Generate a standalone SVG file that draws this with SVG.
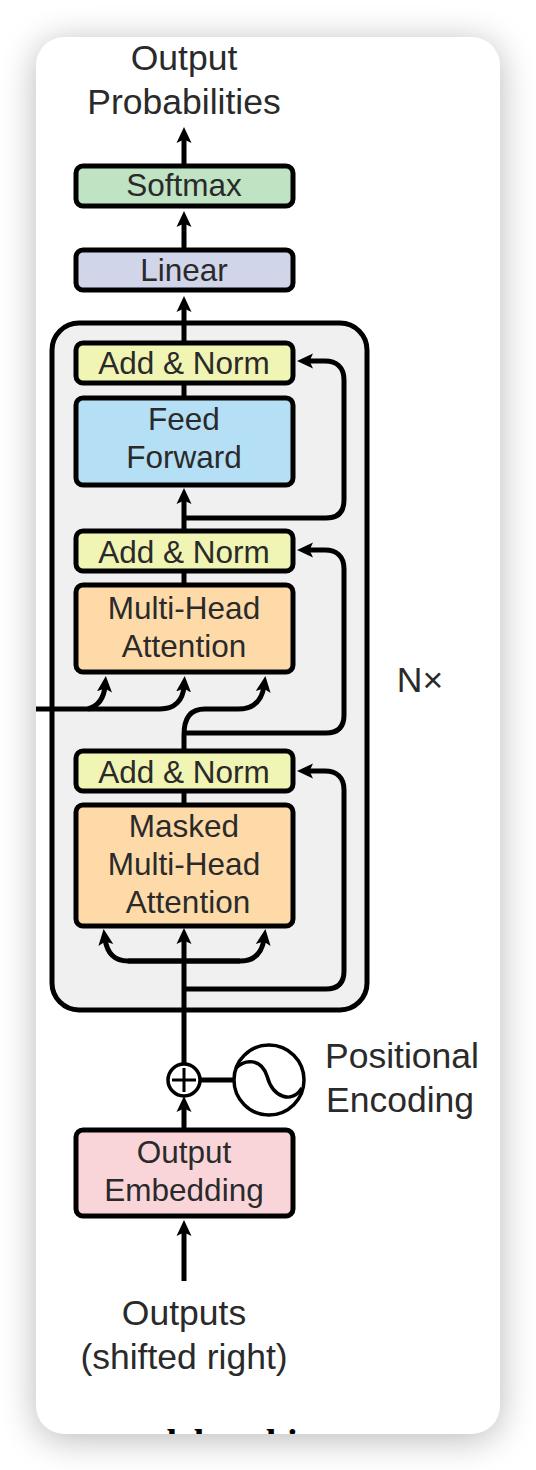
<svg xmlns="http://www.w3.org/2000/svg" width="536" height="1470" viewBox="0 0 536 1470">
<defs>
<filter id="sh" x="-20%" y="-10%" width="140%" height="120%"><feGaussianBlur stdDeviation="18"/></filter>
<clipPath id="card"><rect x="36" y="37" width="464" height="1397" rx="28"/></clipPath>
<marker id="ah" markerUnits="userSpaceOnUse" markerWidth="20" markerHeight="20" refX="6" refY="9" orient="auto"><path d="M16 9L0 1.5L3.5 9L0 16.5Z" fill="#000"/></marker>
</defs>
<style>
text{font-family:"Liberation Sans",Arial,sans-serif;font-size:31.5px;fill:#2a2a2a;text-anchor:middle}
.l{font-size:35.5px}
.b{stroke:#000;stroke-width:5}
.c{fill:none;stroke:#000;stroke-width:5}
.a{marker-end:url(#ah)}
</style>
<rect x="36" y="42" width="464" height="1397" rx="28" fill="#000" opacity=".28" filter="url(#sh)"/>
<rect x="36" y="37" width="464" height="1397" rx="28" fill="#fff"/>
<g id="decoder-frame"><rect x="52" y="323" width="315" height="687" rx="27" fill="#f0f0f0" stroke="#000" stroke-width="5"/></g>
<g id="connectors">
<path class="c a" d="M184 165V137"/>
<path class="c a" d="M184 250V221"/>
<path class="c a" d="M184 343V306"/>
<path class="c" d="M184 384V398"/>
<path class="c a" d="M184 530V498"/>
<path class="c" d="M184 572V586"/>
<path class="c a" d="M184 750V735C184 718 190 709 205 709H238C254 709 262 700 264 686"/>
<path class="c" d="M184 792V806"/>
<path class="c a" d="M184 518H326C338 518 344 512 344 500V380C344 367 336 361 325 361H307"/>
<path class="c a" d="M184 733H326C338 733 344 727 344 715V569C344 556 336 550 325 550H307"/>
<path class="c a" d="M184 989H326C338 989 344 983 344 971V790C344 777 336 771 325 771H307"/>
<path class="c a" d="M184 1068V938"/>
<path class="c a" d="M240 961H128C114 961 107 953 105 939"/>
<path class="c a" d="M128 961H240C254 961 262 953 264 939"/>
<path class="c a" d="M36 709H160C175 709 183 700 184 686"/>
<path class="c a" d="M88 709C98 706 104 698 105 686"/>
<path class="c a" d="M184 1130V1106"/>
<path class="c" d="M201 1080H236"/>
<path class="c a" d="M184 1281V1230"/>
</g>
<g id="softmax"><rect class="b" x="76" y="166" width="217" height="40" rx="7" fill="#bfe3c3"/><text x="184" y="196">Softmax</text></g>
<g id="linear"><rect class="b" x="76" y="250" width="217" height="40" rx="7" fill="#d0d5ea"/><text x="184" y="281">Linear</text></g>
<g id="add-norm-3"><rect class="b" x="76" y="343" width="217" height="40" rx="7" fill="#f1f5b4"/><text x="184" y="374">Add &amp; Norm</text></g>
<g id="feed-forward"><rect class="b" x="76" y="398" width="217" height="87" rx="7" fill="#b5dff4"/><text x="184" y="430">Feed</text><text x="184" y="468">Forward</text></g>
<g id="add-norm-2"><rect class="b" x="76" y="531" width="217" height="40" rx="7" fill="#f1f5b4"/><text x="184" y="563">Add &amp; Norm</text></g>
<g id="multi-head"><rect class="b" x="76" y="585" width="217" height="87" rx="7" fill="#fedaa9"/><text x="184" y="619">Multi-Head</text><text x="184" y="657">Attention</text></g>
<g id="add-norm-1"><rect class="b" x="76" y="751" width="217" height="40" rx="7" fill="#f1f5b4"/><text x="184" y="783">Add &amp; Norm</text></g>
<g id="masked"><rect class="b" x="76" y="805" width="217" height="121" rx="7" fill="#fedaa9"/><text x="184" y="837">Masked</text><text x="184" y="875">Multi-Head</text><text x="188" y="913">Attention</text></g>
<g id="output-embedding"><rect class="b" x="76" y="1130" width="217" height="86" rx="7" fill="#f9d5d9"/><text x="184" y="1163">Output</text><text x="184" y="1201">Embedding</text></g>
<g id="sum"><circle cx="184" cy="1080" r="16" fill="#fff" stroke="#000" stroke-width="3.5"/><path d="M172 1080H196M184 1068V1092" stroke="#000" stroke-width="3" fill="none"/></g>
<g id="positional"><circle cx="269" cy="1080" r="35" fill="#fff" stroke="#000" stroke-width="3.5"/><path d="M236 1068C245 1059 261 1058 267 1076C273 1098 292 1104 302 1088" fill="none" stroke="#000" stroke-width="3.5"/></g>
<g id="labels">
<text class="l" x="184" y="70">Output</text>
<text class="l" x="184" y="114">Probabilities</text>
<text class="l" x="420" y="692">N×</text>
<text class="l" x="402" y="1068">Positional</text>
<text class="l" x="400" y="1112">Encoding</text>
<text class="l" x="184" y="1325">Outputs</text>
<text class="l" x="184" y="1369">(shifted right)</text>
</g>
<g clip-path="url(#card)"><text x="105" y="1456" style="font-family:'Liberation Serif',serif;font-size:38px;font-weight:bold;fill:#000;text-anchor:start">model architecture</text></g>
</svg>
